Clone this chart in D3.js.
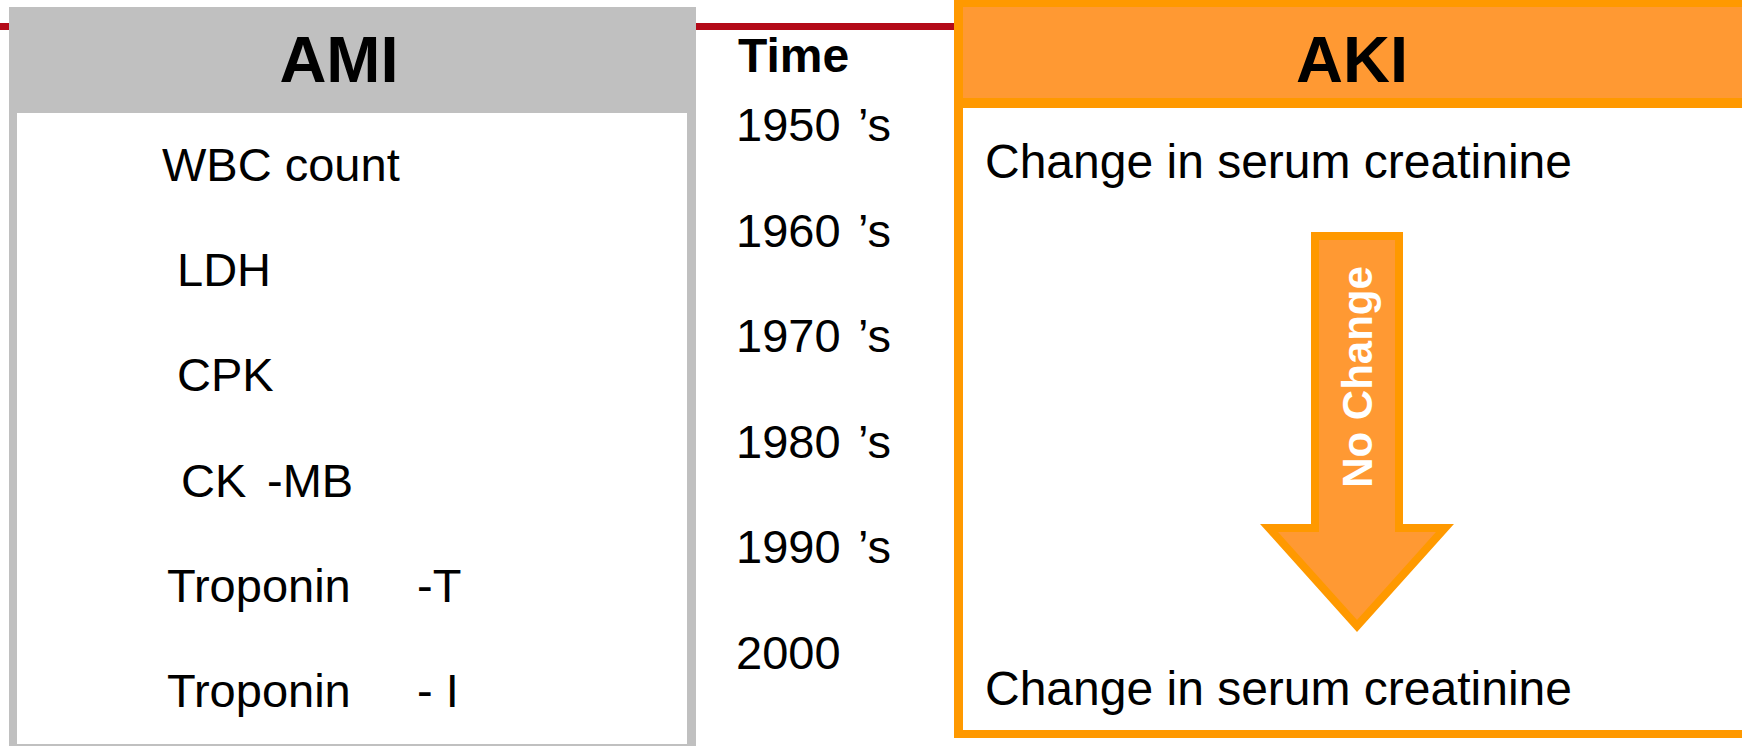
<!DOCTYPE html>
<html><head><meta charset="utf-8">
<script src="https://cdn.jsdelivr.net/npm/d3@7"></script>
<style>html,body{margin:0;padding:0;background:#fff;overflow:hidden}svg{display:block}</style>
</head><body>
<script>
// ---- data ----
const amiTitle = "AMI";
const akiTitle = "AKI";
const timeTitle = "Time";
const amiMarkers = ["WBC count", "LDH", "CPK", "CK", "Troponin", "Troponin"];
const amiSuffixes = ["", "", "", "-MB", "-T", "- I"];
const decades = ["1950", "1960", "1970", "1980", "1990", "2000"];
const decadeSuffixes = ["\u2019s", "\u2019s", "\u2019s", "\u2019s", "\u2019s", ""];
const akiMarkers = ["Change in serum creatinine", "Change in serum creatinine"];
const arrowLabel = "No Change";

// ---- layout ----
(function () {
const W = 1742, H = 746;
const font = "'Liberation Sans', Arial, Helvetica, sans-serif";
const svg = d3.select("body").append("svg").attr("width", W).attr("height", H);

// red rule
svg.append("rect").attr("x", 0).attr("y", 23).attr("width", 960).attr("height", 7).attr("fill", "#B30A18");

// AMI box
svg.append("rect").attr("x", 9).attr("y", 7).attr("width", 687).attr("height", 745).attr("fill", "#C0C0C0");
svg.append("rect").attr("x", 17).attr("y", 113).attr("width", 670).attr("height", 631).attr("fill", "#fff");
svg.append("text").attr("x", 339).attr("y", 82).attr("text-anchor", "middle")
  .attr("font-family", font).attr("font-weight", "bold").attr("font-size", 65).attr("fill", "#000").text(amiTitle);

const yAmi = d3.scaleLinear().domain([0, amiMarkers.length - 1]).range([181, 707]);
const amiX = [162, 177, 177, 181, 167, 167];
const amiSufX = [0, 0, 0, 267, 417, 417];
const gA = svg.append("g").attr("font-family", font).attr("font-size", 47).attr("fill", "#000");
amiMarkers.forEach((m, i) => {
  gA.append("text").attr("x", amiX[i]).attr("y", yAmi(i)).text(m);
  if (amiSuffixes[i]) gA.append("text").attr("x", amiSufX[i]).attr("y", yAmi(i)).text(amiSuffixes[i]);
});

// Time column
svg.append("text").attr("x", 738).attr("y", 72).attr("font-family", font).attr("font-weight", "bold")
  .attr("font-size", 48).attr("fill", "#000").text(timeTitle);
const yTime = d3.scaleLinear().domain([0, decades.length - 1]).range([141, 669]);
const gT = svg.append("g").attr("font-family", font).attr("font-size", 47).attr("fill", "#000");
decades.forEach((d, i) => {
  gT.append("text").attr("x", 736).attr("y", yTime(i)).text(d);
  if (decadeSuffixes[i]) gT.append("text").attr("x", 858).attr("y", yTime(i)).text(decadeSuffixes[i]);
});

// AKI box
svg.append("rect").attr("x", 954).attr("y", 0).attr("width", 820).attr("height", 738).attr("fill", "#FF9900");
svg.append("rect").attr("x", 963).attr("y", 7).attr("width", 820).attr("height", 91).attr("fill", "#FF9933");
svg.append("rect").attr("x", 963).attr("y", 108).attr("width", 820).attr("height", 622).attr("fill", "#fff");
svg.append("text").attr("x", 1352).attr("y", 82).attr("text-anchor", "middle")
  .attr("font-family", font).attr("font-weight", "bold").attr("font-size", 65).attr("fill", "#000").text(akiTitle);

const yAki = d3.scaleLinear().domain([0, akiMarkers.length - 1]).range([178, 705]);
akiMarkers.forEach((m, i) => {
  svg.append("text").attr("x", 985).attr("y", yAki(i)).attr("font-family", font).attr("font-size", 48)
    .attr("fill", "#000").text(m);
});

// arrow
const ax = 1357, shaftHalf = 42, headHalf = 88, arrowTop = 236, headY = 528, tipY = 626;
const arrowPts = [[ax - shaftHalf, arrowTop], [ax + shaftHalf, arrowTop], [ax + shaftHalf, headY], [ax + headHalf, headY],
  [ax, tipY], [ax - headHalf, headY], [ax - shaftHalf, headY]];
svg.append("path").attr("d", d3.line()(arrowPts) + "Z").attr("fill", "#FF9933").attr("stroke", "#FF9900")
  .attr("stroke-width", 8).attr("stroke-linejoin", "miter");
svg.append("text").attr("transform", "translate(1372,377) rotate(-90)").attr("text-anchor", "middle")
  .attr("font-family", font).attr("font-weight", "bold").attr("font-size", 42).attr("fill", "#fff").text(arrowLabel);
})();
</script>
</body></html>
